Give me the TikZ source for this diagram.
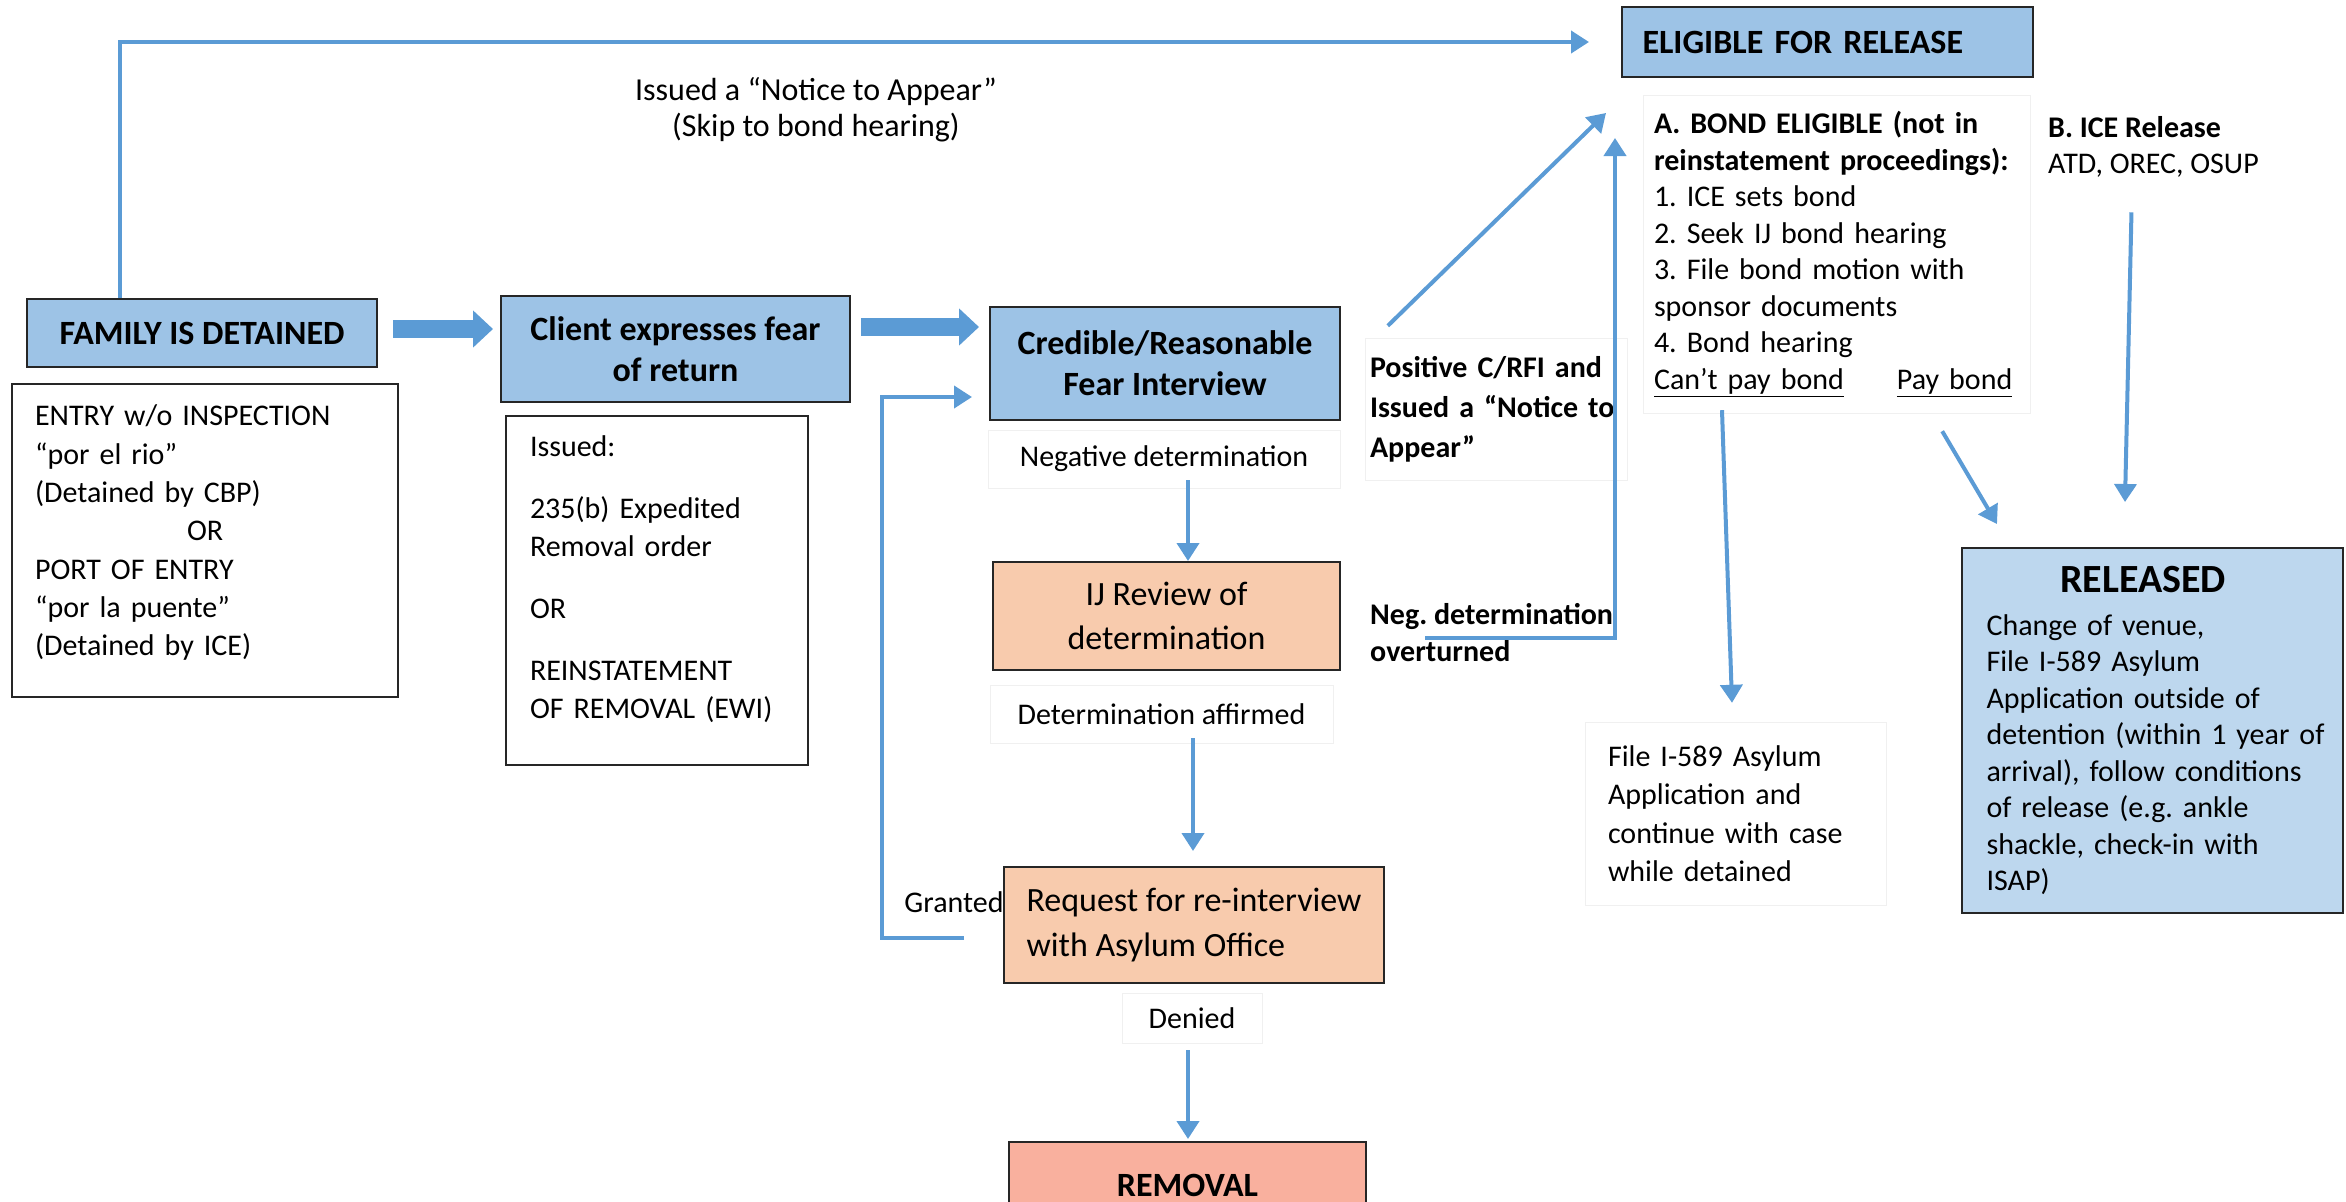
\documentclass[tikz,border=0pt]{standalone}
\usepackage{fontspec}
\setmainfont{Carlito}
\usetikzlibrary{arrows.meta}
\definecolor{bleuboite}{HTML}{9DC3E6}
\definecolor{bleupale}{HTML}{BDD7EE}
\definecolor{peche}{HTML}{F8CBAD}
\definecolor{saumon}{HTML}{F9B09E}
\definecolor{bleufleche}{HTML}{5B9BD5}
\newcommand{\corps}{\fontsize{30}{37}\selectfont}
\newcommand{\titre}{\fontsize{34}{41}\selectfont\bfseries}

\begin{document}
\frenchspacing
\begin{tikzpicture}[x=1pt,y=-1pt]
\tikzset{boite/.style={draw=black!85, line width=2pt, fill=bleuboite, font=\titre, align=center, inner sep=0pt},
  cadre/.style={draw=black!85, line width=2pt, fill=white, font=\corps, align=left, inner ysep=0pt},
  etiquette/.style={draw=black!6, font=\corps, align=center, inner sep=0pt},
  fleche/.style={draw=bleufleche, line width=4pt, -{Triangle[width=22pt,length=18pt]}},
  grossefleche/.style={draw=bleufleche, line width=18pt, -{Triangle[width=36pt,length=20pt]}}}
\useasboundingbox (0,0) rectangle (2346,1202);
\clip (0,0) rectangle (2346,1202);
\node[boite, minimum width=350pt, minimum height=68pt] (famille) at (202,333) {FAMILY IS DETAINED};
\node[cadre, text width=340pt, inner xsep=23pt, minimum height=313pt, text depth=250pt, font=\fontsize{30}{38.3}\selectfont] (entree) at (205,540.5) {ENTRY w/o INSPECTION\\“por el rio”\\(Detained by CBP)\\\hspace*{152pt}OR\\PORT OF ENTRY\\“por la puente”\\(Detained by ICE)};
\node[boite, minimum width=349pt, minimum height=106pt] (client) at (675.5,349) {Client expresses fear\\of return};
\node[cadre, text width=254pt, inner xsep=24pt, minimum height=349pt, text depth=288pt, font=\fontsize{30}{38}\selectfont] (emis) at (657,590.5) {Issued:\\[24pt]235(b) Expedited\\Removal order\\[24pt]OR\\[24pt]REINSTATEMENT\\OF REMOVAL (EWI)};
\node[boite, minimum width=350pt, minimum height=113pt] (credible) at (1165,363.5) {Credible/Reasonable\\Fear Interview};
\node[etiquette, minimum width=352pt, minimum height=58pt] (negatif) at (1164,459) {Negative determination};
\node[boite, fill=peche, font=\fontsize{34}{44}\selectfont, minimum width=347pt, minimum height=108pt] (revue) at (1166.5,616) {IJ Review of\\determination};
\node[etiquette, minimum width=343pt, minimum height=58pt] (confirme) at (1161.5,714) {Determination affirmed};
\node[boite, fill=peche, font=\fontsize{34}{45}\selectfont, align=left, minimum width=380pt, minimum height=116pt] (requete) at (1194,925) {Request for re-interview\\with Asylum Office};
\node[font=\corps, inner sep=0pt] (accorde) at (954,902) {Granted};
\node[etiquette, minimum width=140pt, minimum height=50pt] (refuse) at (1192,1018) {Denied};
\node[boite, fill=saumon, minimum width=357pt, minimum height=86pt] (renvoi) at (1187.5,1185) {REMOVAL};
\node[font=\fontsize{32}{36}\selectfont, align=center] (avis) at (816,110) {Issued a “Notice to Appear”\\(Skip to bond hearing)};
\node[boite, align=left, text width=370pt, inner xsep=20.5pt, minimum height=70pt] (eligible) at (1827.5,42) {ELIGIBLE FOR RELEASE};
\node[etiquette, font=\bfseries\fontsize{30}{40}\selectfont, align=left, text width=252pt, inner xsep=5pt, minimum height=142pt] (positif) at (1496,409) {Positive C/RFI and\\Issued a “Notice to\\Appear”};
\node[font=\bfseries\fontsize{30}{37}\selectfont, align=left, anchor=west, inner sep=8pt] (renverse) at (1362,633) {Neg. determination\\overturned};
\node[etiquette, align=left, text width=365pt, inner xsep=11pt, minimum height=318pt, font=\fontsize{30}{36.5}\selectfont] (bondA) at (1836.5,254) {\textbf{A. BOND ELIGIBLE (not in}\\\textbf{reinstatement proceedings):}\\1. ICE sets bond\\2. Seek IJ bond hearing\\3. File bond motion with\\sponsor documents\\4. Bond hearing\\\underline{Can’t pay bond}\hspace*{53pt}\underline{Pay bond}};
\node[font=\fontsize{30}{36}\selectfont, align=left, anchor=north west, inner sep=8pt] (iceB) at (2040,108) {\textbf{B. ICE Release}\\ATD, OREC, OSUP};
\node[etiquette, align=left, text width=255pt, inner xsep=23pt, minimum height=183pt, font=\fontsize{30}{38.5}\selectfont] (asile) at (1735.5,813.5) {File I-589 Asylum\\Application and\\continue with case\\while detained};
\node[boite, fill=bleupale, font=\fontsize{30}{36.5}\selectfont, align=left, text width=350pt, inner xsep=15.5pt, minimum height=365pt] (libere) at (2152.5,730.5) {\makebox[331pt]{\bfseries\fontsize{40}{40}\selectfont RELEASED}\\[6pt]\hspace*{9pt}Change of venue,\\\hspace*{9pt}File I-589 Asylum\\\hspace*{9pt}Application outside of\\\hspace*{9pt}detention (within 1 year of\\\hspace*{9pt}arrival), follow conditions\\\hspace*{9pt}of release (e.g. ankle\\\hspace*{9pt}shackle, check-in with\\\hspace*{9pt}ISAP)};
\draw[fleche] ([xshift=-82pt]famille.north) |- ([xshift=-32pt]eligible.west);
\draw[grossefleche] ([xshift=15pt,yshift=4pt]famille.east) -- ([xshift=-7pt,yshift=4pt]famille.east -| client.west);
\draw[grossefleche] ([xshift=10pt,yshift=22pt]client.east) -- ([xshift=-10pt,yshift=22pt]client.east -| credible.west);
\draw[fleche] ([xshift=24pt,yshift=8pt]negatif.south) -- ([xshift=21.5pt]revue.north);
\draw[fleche] ([xshift=31.5pt,yshift=5pt]confirme.south) -- ([xshift=-1pt,yshift=15pt]requete.north);
\draw[fleche] ([xshift=-4pt,yshift=-7pt]refuse.south) -- ([xshift=0.5pt,yshift=2pt]renvoi.north);
\draw[fleche] ([xshift=-39pt,yshift=-13pt]requete.west) -- ++(-82,0) |- ([xshift=-17pt,yshift=-33.5pt]credible.west);
\draw[fleche] ([xshift=23pt,yshift=12pt]positif.north west) -- ([xshift=-15pt,yshift=-35pt]eligible.south west);
\draw[fleche] ([xshift=63pt,yshift=-5pt]renverse.west) -| ([xshift=-6pt,yshift=-60pt]eligible.south west);
\draw[fleche] ([xshift=-114.5pt,yshift=3pt]bondA.south) -- ([xshift=-3.5pt,yshift=19pt]asile.north);
\draw[fleche] ([xshift=-88pt,yshift=-18pt]bondA.south east) -- ([xshift=36pt,yshift=23pt]libere.north west);
\draw[fleche] ([xshift=-22pt,yshift=-27pt]iceB.south) -- ([xshift=-27.5pt,yshift=45pt]libere.north);
\end{tikzpicture}
\end{document}
